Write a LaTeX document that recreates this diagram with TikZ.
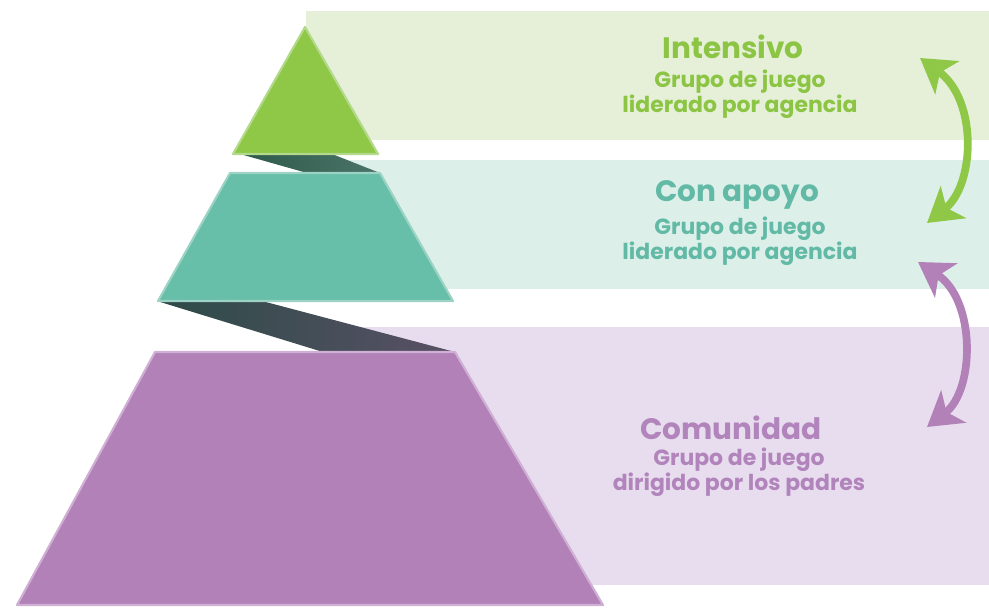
\documentclass[tikz,border=0pt]{standalone}
\usepackage{fontspec}
\setmainfont{Poppins}
\usetikzlibrary{arrows.meta}
\definecolor{verde}{HTML}{8FC747}
\definecolor{verdeborde}{HTML}{B3D98A}
\definecolor{verdebanda}{HTML}{E6F0D9}
\definecolor{verdetexto}{HTML}{8CC544}
\definecolor{teal}{HTML}{67BEA9}
\definecolor{tealborde}{HTML}{9DD3C4}
\definecolor{tealbanda}{HTML}{DDEFE9}
\definecolor{tealtexto}{HTML}{62BAA6}
\definecolor{morado}{HTML}{B281B8}
\definecolor{moradoborde}{HTML}{CFB0D4}
\definecolor{moradobanda}{HTML}{E8DDEE}
\definecolor{moradotexto}{HTML}{B184BB}
\definecolor{cintaosc}{HTML}{2C4B47}
\definecolor{cintaverde}{HTML}{2F5A4A}
\definecolor{cintateal}{HTML}{4A7468}
\definecolor{cintamorada}{HTML}{5A5066}
\tikzset{
  titulo/.style={font=\fontsize{16.8}{18}\selectfont\bfseries, inner sep=0pt},
  subtitulo/.style={font=\fontsize{12.5}{14.5}\selectfont\bfseries, align=center, inner sep=0pt},
  pieza/.style={line width=1.2pt, line join=round},
  flecha/.style={line width=4.4pt, {Stealth[length=19pt,width=23pt,inset=5pt]}-{Stealth[length=19pt,width=23pt,inset=5pt]}}
}
\begin{document}
\begin{tikzpicture}[x=0.02cm, y=-0.02cm]
\useasboundingbox (0,0) rectangle (989,608);
% bandas
\fill[verdebanda] (306,11) rectangle (989,140);
\fill[tealbanda] (340,160) rectangle (989,289);
\fill[moradobanda] (360,327) rectangle (989,585);
% cintas
\shade[left color=cintaverde, right color=cintateal] (240,154)--(332,154)--(380,173)--(307,173)--cycle;
\shade[left color=cintaosc, right color=cintamorada] (157,301)--(262,301)--(455,352)--(323,352)--cycle;
% piramide
\filldraw[pieza, fill=verde, draw=verdeborde] (305,27)--(378,154)--(233,154)--cycle;
\filldraw[pieza, fill=teal, draw=tealborde] (230,173)--(380,173)--(453,301)--(158,301)--cycle;
\filldraw[pieza, fill=morado, draw=moradoborde] (155,352)--(455,352)--(603,605)--(17,605)--cycle;
% textos
\node[titulo, text=verdetexto] (intensivo) at (733,47) {Intensivo};
\node[subtitulo, text=verdetexto] (intensivosub) at (740,94) {Grupo de juego\\liderado por agencia};
\node[titulo, text=tealtexto] (apoyo) at (737,195) {Con apoyo};
\node[subtitulo, text=tealtexto] (apoyosub) at (740,241) {Grupo de juego\\liderado por agencia};
\node[titulo, text=moradotexto] (comunidad) at (731,428) {Comunidad};
\node[subtitulo, text=moradotexto] (comunidadsub) at (739,472) {Grupo de juego\\dirigido por los padres};
% flechas
\coordinate (verdearriba) at (920,58);
\coordinate (verdeabajo) at (927,223);
\coordinate (moradoarriba) at (918,262);
\coordinate (moradoabajo) at (927,427);
\draw[flecha, verde] (verdearriba) .. controls (978,100) and (975,185) .. (verdeabajo);
\draw[flecha, morado] (moradoarriba) .. controls (976,300) and (975,390) .. (moradoabajo);
\end{tikzpicture}
\end{document}
